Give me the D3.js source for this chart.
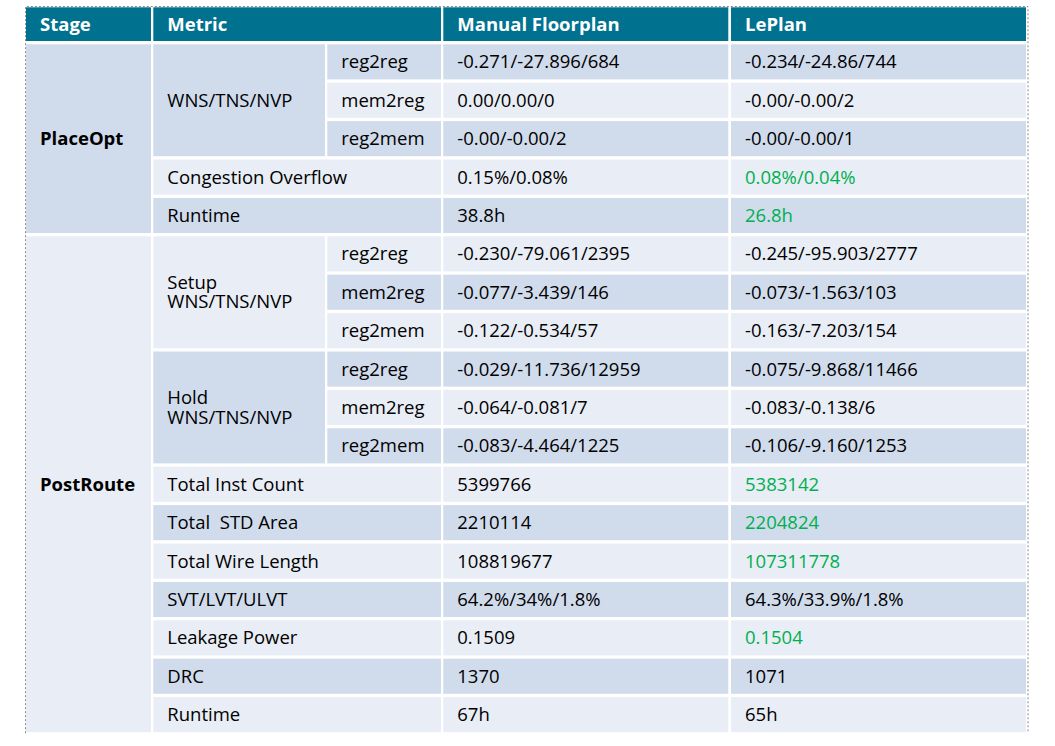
<!DOCTYPE html>
<html>
<head>
<meta charset="utf-8">
<script src="https://cdn.jsdelivr.net/npm/d3@7"></script>
<style>
  body { margin: 0; background: #fff; }
  svg { display: block; font-family: "Open Sans", sans-serif; }
  text { white-space: pre; }
</style>
</head>
<body>
<div id="table"></div>
<script>
// Table content
const headers = ["Stage", "Metric", "Manual Floorplan", "LePlan"];

const stages = [
  { name: "PlaceOpt", start: 0, span: 5 },
  { name: "PostRoute", start: 5, span: 13 }
];

const metricGroups = [
  { lines: ["WNS/TNS/NVP"], start: 0, span: 3, hasSub: true },
  { lines: ["Congestion Overflow"], start: 3, span: 1, hasSub: false },
  { lines: ["Runtime"], start: 4, span: 1, hasSub: false },
  { lines: ["Setup", "WNS/TNS/NVP"], start: 5, span: 3, hasSub: true },
  { lines: ["Hold", "WNS/TNS/NVP"], start: 8, span: 3, hasSub: true },
  { lines: ["Total Inst Count"], start: 11, span: 1, hasSub: false },
  { lines: ["Total  STD Area"], start: 12, span: 1, hasSub: false },
  { lines: ["Total Wire Length"], start: 13, span: 1, hasSub: false },
  { lines: ["SVT/LVT/ULVT"], start: 14, span: 1, hasSub: false },
  { lines: ["Leakage Power"], start: 15, span: 1, hasSub: false },
  { lines: ["DRC"], start: 16, span: 1, hasSub: false },
  { lines: ["Runtime"], start: 17, span: 1, hasSub: false }
];

const subMetrics = [
  "reg2reg", "mem2reg", "reg2mem", null, null,
  "reg2reg", "mem2reg", "reg2mem",
  "reg2reg", "mem2reg", "reg2mem",
  null, null, null, null, null, null, null
];

const manualValues = [
  "-0.271/-27.896/684", "0.00/0.00/0", "-0.00/-0.00/2", "0.15%/0.08%", "38.8h",
  "-0.230/-79.061/2395", "-0.077/-3.439/146", "-0.122/-0.534/57",
  "-0.029/-11.736/12959", "-0.064/-0.081/7", "-0.083/-4.464/1225",
  "5399766", "2210114", "108819677", "64.2%/34%/1.8%", "0.1509", "1370", "67h"
];

const lePlanValues = [
  "-0.234/-24.86/744", "-0.00/-0.00/2", "-0.00/-0.00/1", "0.08%/0.04%", "26.8h",
  "-0.245/-95.903/2777", "-0.073/-1.563/103", "-0.163/-7.203/154",
  "-0.075/-9.868/11466", "-0.083/-0.138/6", "-0.106/-9.160/1253",
  "5383142", "2204824", "107311778", "64.3%/33.9%/1.8%", "0.1504", "1071", "65h"
];

// rows where LePlan is shown in green
const lePlanBetter = [false, false, false, true, true, false, false, false,
  false, false, false, true, true, true, false, true, false, false];

const width = 1055;
const height = 746;
const headerColor = "#00728f";
const darkBand = "#d0dbec";
const lightBand = "#e9edf5";
const green = "#00b050";
const fontSize = 18.5;
const lineGap = 19.5;
const padX = 14;
const gapY = 3.3;

const svg = d3.select("#table")
  .append("svg")
  .attr("width", width)
  .attr("height", height);

// column edges: stage, metric, sub-metric, manual, leplan
const colLeft = { stage: 26, metric: 153.3, sub: 327.3, manual: 443.3, leplan: 731 };
const colRight = { stage: 151, metric: 441, metricOnly: 325, sub: 441, manual: 728.3, leplan: 1026 };

const nRows = manualValues.length;
const y = d3.scaleLinear()
  .domain([0, nRows])
  .range([44.3, 44.3 + nRows * 38.4]);

const band = i => (i % 2 === 0 ? darkBand : lightBand);
const cellH = span => y(span) - y(0) - gapY;

// header
const headerCols = [
  { text: headers[0], x0: colLeft.stage, x1: colRight.stage },
  { text: headers[1], x0: colLeft.metric, x1: colRight.metric },
  { text: headers[2], x0: colLeft.manual, x1: colRight.manual },
  { text: headers[3], x0: colLeft.leplan, x1: colRight.leplan }
];
const headerTop = 7.3, headerBottom = 41;

const head = svg.append("g").attr("class", "header");
head.selectAll("rect")
  .data(headerCols)
  .enter()
  .append("rect")
  .attr("x", d => d.x0)
  .attr("y", headerTop)
  .attr("width", d => d.x1 - d.x0)
  .attr("height", headerBottom - headerTop)
  .style("fill", headerColor);
head.selectAll("text")
  .data(headerCols)
  .enter()
  .append("text")
  .attr("x", d => d.x0 + padX)
  .attr("y", (headerTop + headerBottom) / 2)
  .attr("dy", "0.35em")
  .style("font-size", fontSize + "px")
  .style("font-weight", "bold")
  .style("fill", "#fff")
  .text(d => d.text);

// generic cell drawing
function drawCells(cls, data, x0, x1, color) {
  const g = svg.append("g").attr("class", cls);
  g.selectAll("rect")
    .data(data)
    .enter()
    .append("rect")
    .attr("x", d => x0(d))
    .attr("y", d => y(d.start))
    .attr("width", d => x1(d) - x0(d))
    .attr("height", d => cellH(d.span))
    .style("fill", d => band(d.start));
  const t = g.selectAll("text")
    .data(data)
    .enter()
    .append("text")
    .attr("x", d => x0(d) + padX)
    .attr("y", d => y(d.start) + cellH(d.span) / 2)
    .style("font-size", fontSize + "px")
    .style("font-weight", d => d.bold ? "bold" : "normal")
    .style("fill", d => color(d));
  t.each(function(d) {
    const lines = d.lines;
    d3.select(this).selectAll("tspan")
      .data(lines)
      .enter()
      .append("tspan")
      .attr("x", x0(d) + padX)
      .attr("dy", (l, i) => i === 0 ? ((0.35 * fontSize) - (lines.length - 1) * lineGap / 2) : lineGap)
      .text(l => l);
  });
  return g;
}

// stage column
drawCells("stage",
  stages.map(s => ({ start: s.start, span: s.span, lines: [s.name], bold: true })),
  () => colLeft.stage, () => colRight.stage, () => "#000");

// metric column
drawCells("metric",
  metricGroups.map(m => ({ start: m.start, span: m.span, lines: m.lines, hasSub: m.hasSub })),
  () => colLeft.metric, d => d.hasSub ? colRight.metricOnly : colRight.metric, () => "#000");

// sub-metric column
drawCells("sub",
  subMetrics.map((s, i) => ({ start: i, span: 1, lines: [s] })).filter(d => d.lines[0]),
  () => colLeft.sub, () => colRight.sub, () => "#000");

// values
drawCells("manual",
  manualValues.map((v, i) => ({ start: i, span: 1, lines: [v] })),
  () => colLeft.manual, () => colRight.manual, () => "#000");

drawCells("leplan",
  lePlanValues.map((v, i) => ({ start: i, span: 1, lines: [v], better: lePlanBetter[i] })),
  () => colLeft.leplan, () => colRight.leplan, d => d.better ? green : "#000");

// dashed frame around the table
const frameBottom = y(nRows) - gapY + 1;
svg.append("path")
  .attr("d", `M25.5,${frameBottom}V6.5H1028V${frameBottom}`)
  .style("fill", "none")
  .style("stroke", "#8a8a8a")
  .style("stroke-width", 1)
  .style("stroke-dasharray", "2,2");
</script>
</body>
</html>
